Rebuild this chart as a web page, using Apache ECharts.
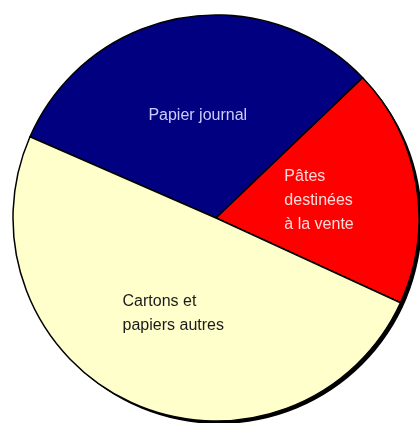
<!DOCTYPE html>
<html>
<head>
<meta charset="utf-8">
<script src="https://cdn.jsdelivr.net/npm/echarts@6/dist/echarts.min.js"></script>
<style>
html,body{margin:0;padding:0;background:#fff;}
#c{width:420px;height:423px;}
</style>
</head>
<body>
<div id="c"></div>
<script>
const categories = ['Papier journal', 'Pâtes destinées à la vente', 'Cartons et papiers autres'];
const labelTexts = ['Papier journal', 'Pâtes\ndestinées\nà la vente', 'Cartons et\npapiers autres'];
const values = [31.3, 19.0, 49.7];
const colors = ['#000080', '#FF0000', '#FFFFCC'];
const labelColors = ['#CCCCFF', '#FFDADA', '#1a1a1a'];

const FONT = '"Liberation Sans", Arial, sans-serif';

const chart = echarts.init(document.getElementById('c'), null, {renderer: 'canvas'});
const data = categories.map((name, i) => ({
  name: name,
  value: values[i],
  itemStyle: {color: colors[i]},
  label: {
    formatter: '{a|' + labelTexts[i] + '}',
    rich: {a: {align: 'left', color: labelColors[i], fontFamily: FONT, fontSize: 16, lineHeight: 24}}
  }
}));

chart.setOption({
  animation: false,
  series: [
    {
      type: 'pie',
      silent: true,
      center: [219, 221],
      radius: 203,
      z: 1,
      label: {show: false},
      labelLine: {show: false},
      itemStyle: {color: '#000'},
      data: [{name: 'shadow', value: 1}]
    },
    {
      type: 'pie',
      center: [216, 218],
      radius: 203,
      startAngle: 156.4,
      clockwise: true,
      z: 2,
      itemStyle: {borderColor: '#000', borderWidth: 1.5},
      label: {show: true, position: 'inside', align: 'center', verticalAlign: 'middle'},
      labelLine: {show: false},
      emphasis: {disabled: true},
      data: data
    }
  ]
});
</script>
</body>
</html>
